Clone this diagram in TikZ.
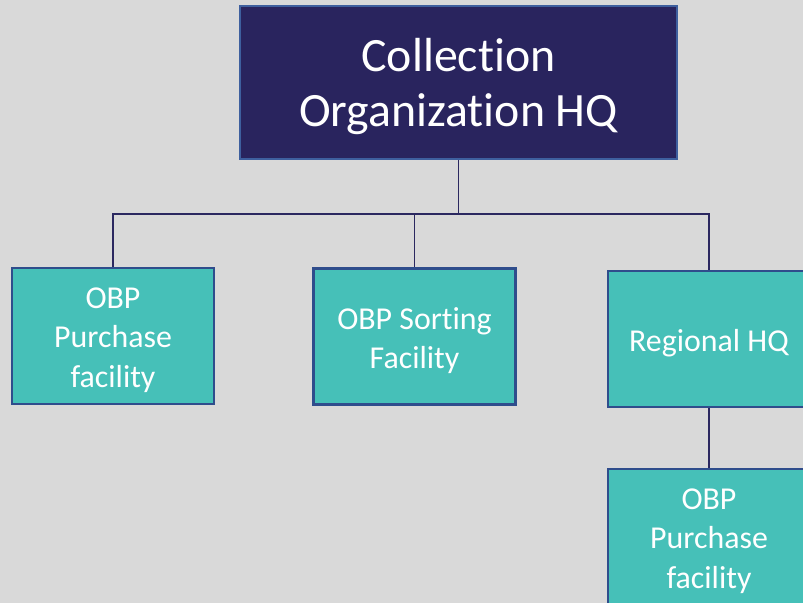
\documentclass[tikz,border=0pt]{standalone}
\usepackage{fontspec}
\setmainfont{Carlito}[Ligatures=NoCommon]
\definecolor{bgc}{HTML}{D9D9D9}
\definecolor{navy}{HTML}{29245E}
\definecolor{navyedge}{HTML}{3E5F9E}
\definecolor{tealc}{HTML}{46C0B8}
\definecolor{tealedge}{HTML}{2F4D8C}
\definecolor{linec}{HTML}{2B2860}
\tikzset{
  toptext/.style={text=white, align=center, inner sep=0pt, yshift=-4bp,
    font=\fontsize{48}{55}\selectfont},
  childtext/.style={text=white, align=center, inner sep=0pt, yshift=-4bp,
    font=\fontsize{32}{39.5}\selectfont},
  topbox/.style={rectangle, fill=navy, draw=navyedge, line width=2bp,
    minimum width=437bp, minimum height=153bp, inner sep=0pt,
    label={[toptext]center:{#1}}},
  childbox/.style={rectangle, fill=tealc, draw=tealedge, line width=2.5bp,
    minimum width=202bp, minimum height=136bp, inner sep=0pt,
    label={[childtext]center:{#1}}},
  conn/.style={draw=linec, line width=1.2bp}
}
\begin{document}
\begin{tikzpicture}[x=1bp,y=-1bp]
\fill[bgc] (0,0) rectangle (803,603);
\useasboundingbox (0,0) rectangle (803,603);
\node[topbox={Collection\\Organization HQ}] (top) at (458.5,82.5) {};
\node[childbox={OBP\\Purchase\\facility}] (b1) at (113,336) {};
\node[childbox={OBP Sorting\\Facility}] (b2) at (414.5,336.5) {};
\node[childbox={Regional HQ}] (b3) at (709,339) {};
\node[childbox={OBP\\Purchase\\facility}] (b4) at (709,537) {};
\coordinate (bus) at (458.5,214);
\draw[conn] (top.south) -- (bus) -| (b1.north);
\draw[conn] (top.south) -- (bus) -| (b2.north);
\draw[conn] (top.south) -- (bus) -| (b3.north);
\draw[conn] (b3.south) -- (b4.north);
\end{tikzpicture}
\end{document}
